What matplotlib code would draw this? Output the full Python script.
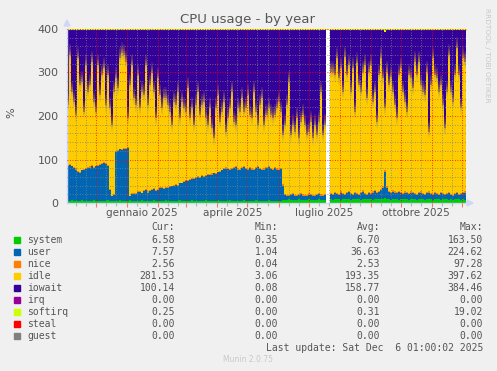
import numpy as np
import matplotlib
matplotlib.use('Agg')
import matplotlib.pyplot as plt
import matplotlib.dates as mdates
from matplotlib.patches import Rectangle, Polygon

nan = float('nan')

# ---- data: one sample every 2 days, starting 2024-11-02 ----
start_date = '2024-11-02'
step_days = 2

system = [5,5,6,5,4,5,5,6,5,5, 5,4,5,6,5,5,5,4,5,5, 6,5,5,5,4,5,6,5,5,5,
          5,6,5,4,5,5,5,6,5,5, 4,5,5,6,5,5,5,4,5,6, 5,5,5,4,5,5,6,5,5,5,
          4,5,6,5,5,5,5,4,5,6, 5,5,4,5,5,6,5,5,5,4, 5,6,5,5,5,4,5,5,6,5,
          5,5,4,5,6,5,5,5,4,5, 6,5,5,5,4,5,5,
          8,7,8,9,8,7,8,8,9,8,7,8,8,9,8,7,8,8,9,8,7,8,8,
          nan,
          9,8,9,10,9,8,9,9,10,9,8,9,9,10,9,8,9,9,
          9,10,9,8,9,10,9,9,10,12,10,9,8,9,10,9,8,9,10,9,9,8,9,10,9,
          8,9,10,9,8,9,10,9,8,9,10,9,8,9,10,9,8,9,8,9,10,9,8,9,8,6.58]

user = [80,83,79,75,73, 67,65,69,71,73,75, 77,80,75,79,81, 83,85,87,85,80,
        25,10,13, 113,115,117,117,119,120,121, 10,15,17,15,20, 20,17,23,25,20,
        23,25,27,23,25,29,30,27, 29,30,31,33,35,37,35,39,40,43,45,
        47,49,50,51,53,55,53,57,55,57,59, 60,61,63,61,65,67,70,73,75,73,
        71,73,75,77,73,71,75,77,73,71,75,73,71,75,77,73,71,73,75,77,73,71,75,73,71,73,
        32,11,8,6,10,13,8,7,9,12,10,7,8,10,10,9,7,10,11,9,9,10,14,
        nan,
        11,10,13,10,9,16,11,9,12,16,12,9,13,10,9,14,17,11,
        9,12,11,16,19,12,16,21,25,60,25,16,14,17,14,13,17,13,10,15,13,12,15,12,11,
        10,13,14,11,10,13,14,11,10,13,10,9,14,11,8,11,14,9,8,11,12,9,12,13,16,7.57]

nice = [2,2,1,2,3,2,2,1,2,2, 2,3,2,1,2,2,2,3,2,2, 1,2,2,2,3,2,1,2,2,2,
        2,1,2,3,2,2,2,1,2,2, 3,2,2,1,2,2,2,3,2,1, 2,2,2,3,2,2,1,2,2,2,
        3,2,1,2,2,2,2,3,2,1, 2,2,3,2,2,1,2,2,2,3, 2,1,2,2,2,3,2,2,1,2,
        2,2,3,2,1,2,2,2,3,2, 1,2,2,2,3,2,2,
        3,3,3,3,3,3,3,3,3,3,3,3,3,3,3,3,3,3,3,3,3,3,3,
        nan,
        3,3,3,3,3,3,3,3,3,3,3,3,3,3,3,3,3,3,
        3,3,3,3,3,3,3,3,3,3,3,3,3,3,3,3,3,3,3,3,3,3,3,3,3,
        3,3,3,3,3,3,3,3,3,3,3,3,3,3,3,3,3,3,3,3,3,3,3,3,3,2.56]

idle = [138,250,170,151,122, 259,199,203,132,237,174, 187,238,151,124,229,
        158,202,216,133,207, 186,162,236, 167,142,209,220,214,198,67,
        254,295,217,203,267, 191,232,218,285,198, 241,266,222,165,255,212,181,207,
        205,188,172,139,191,181,214,149,186,168,158,
        210,139,161,121,165,194,142,161,171,131,113,
        151,104,79,150,176,113,133,153,82,115,
        140,176,105,95,138,132,159,126,138,170,120,115,178,128,95,145,163,99,120,134,
        122,117,120,138,155,130,
        113,158,206,261,135,156,145,177,128,164,182,161,137,142,166,130,161,135,164,236,137,158,185,
        nan,
        279,281,269,310,266,283,233,315,269,289,233,289,185,298,250,231,273,294,
        220,277,294,206,225,162,266,300,249,143,264,243,265,227,198,170,266,285,233,206,
        185,271,260,239,302,273,300,244,233,227,277,137,248,312,269,264,235,246,202,151,
        233,315,235,214,271,331,273,195,308,298,281.53]

iowait = [175,60,144,167,198,67,129,121,190,83, 144,129,75,167,190,83,152,106,90,175,
          106,182,221,144,113,136,67,56,60,75, 205,129,83,159,175,106,182,144,152,83,
          175,129,102,144,205,113,152,182,159,159, 175,190,221,167,175,144,205,167,182,190,
          136,205,182,221,175,144,198,175,167,205, 221,182,228,251,182,152,213,190,167,236,
          205,182,144,213,221,182,190,159,190,182, 152,198,205,144,190,221,175,159,221,198,
          182,198,205,198,182,167,190,
          244,221,175,121,244,221,236,205,251,213,198,221,244,236,213,251,221,244,213,144,244,221,190,
          nan,
          98,98,106,67,113,90,144,64,106,83,144,90,190,79,129,144,98,83,
          159,98,83,167,144,213,106,67,113,174,98,129,110,144,175,205,106,90,144,167,
          190,106,113,136,75,106,75,129,144,152,98,236,129,67,106,113,144,129,175,228,
          144,60,144,167,106,44,106,182,67,75,100.14]

softirq = [0.3,0.3,0.4,0.3,0.2,0.3,0.3,0.4,0.3,0.3, 0.3,0.2,0.3,0.3,0.4,0.3,0.3,0.3,0.2,0.3,
           0.3,0.4,0.3,0.3,0.3,0.2,0.3,0.3,0.4,0.3, 0.3,0.3,0.2,0.3,0.3,0.4,0.3,0.3,0.3,0.2,
           0.3,0.3,0.4,0.3,0.3,0.3,0.2,0.3,0.3,0.4, 0.3,0.3,0.3,0.2,0.3,0.3,0.4,0.3,0.3,0.3,
           0.2,0.3,0.3,0.4,0.3,0.3,0.3,0.2,0.3,0.3, 0.4,0.3,0.3,0.3,0.2,0.3,0.3,0.4,0.3,0.3,
           0.3,0.2,0.3,0.3,0.4,0.3,0.3,0.3,0.2,0.3, 0.3,0.4,0.3,0.3,0.3,0.2,0.3,0.3,0.4,0.3,
           0.3,0.3,0.2,0.3,0.3,0.4,0.3,
           0.3,0.3,0.4,0.3,0.2,0.3,0.3,0.4,0.3,0.3,0.3,0.2,0.3,0.3,0.4,0.3,0.3,0.3,0.2,0.3,0.3,0.4,0.3,
           nan,
           0.3,0.3,0.2,0.3,0.3,0.4,0.3,0.3,0.3,0.2,0.3,0.3,0.4,0.3,0.3,0.3,0.2,0.3,
           0.3,0.3,0.4,0.3,0.2,0.3,0.3,0.4,0.3,8.0,0.3,0.3,0.2,0.3,0.3,0.4,0.3,0.3,0.3,0.2,
           0.3,0.3,0.4,0.3,0.3,0.3,0.2,0.3,0.3,0.4,0.3,0.3,0.3,0.2,0.3,0.3,0.4,0.3,0.3,0.3,
           0.2,0.3,0.3,0.4,0.3,0.3,0.3,0.2,0.3,0.3,0.25]

series_names = ['system', 'user', 'nice', 'idle', 'iowait', 'irq', 'softirq', 'steal', 'guest']
series_colors = ['#00CC00', '#0066B3', '#FF8000', '#FFCC00', '#330099', '#990099', '#CCFF00', '#FF0000', '#808080']
cur_vals = ['6.58', '7.57', '2.56', '281.53', '100.14', '0.00', '0.25', '0.00', '0.00']
min_vals = ['0.35', '1.04', '0.04', '3.06', '0.08', '0.00', '0.00', '0.00', '0.00']
avg_vals = ['6.70', '36.63', '2.53', '193.35', '158.77', '0.00', '0.31', '0.00', '0.00']
max_vals = ['163.50', '224.62', '97.28', '397.62', '384.46', '0.00', '19.02', '0.00', '0.00']

month_labels = ['gennaio 2025', 'aprile 2025', 'luglio 2025', 'ottobre 2025']
month_label_dates = ['2025-01-16', '2025-04-16', '2025-07-16', '2025-10-16']
y_ticks = [0, 100, 200, 300, 400]

title = 'CPU usage - by year'
last_update = 'Last update: Sat Dec  6 01:00:02 2025'

# ---- figure ----
W, H = 497, 371
fig = plt.figure(figsize=(W / 100, H / 100), dpi=100)
fig.patch.set_facecolor('#F0F0F0')

L, R, T, B = 67, 466, 29, 203
ax = fig.add_axes([L / W, 1 - B / H, (R - L) / W, (B - T) / H])
ax.set_facecolor('#FFFFFF')

n = len(system)
dates = np.datetime64(start_date) + np.arange(n) * np.timedelta64(step_days, 'D')
xnum = mdates.date2num(dates)

stack = np.array([system, user, nice, idle, iowait, softirq], dtype=float)
cols = ['#00CC00', '#0066B3', '#FF8000', '#FFCC00', '#330099', '#CCFF00']
bottom = np.zeros(n)
idle_top = None
for k, (vals, c) in enumerate(zip(stack, cols)):
    top = bottom + vals
    ax.fill_between(xnum, bottom, top, step='post', color=c, linewidth=0, zorder=1)
    if k == 3:
        idle_top = top.copy()
    bottom = top
# thin softirq line at the very top of the stack
ax.plot(xnum, bottom, drawstyle='steps-post', color='#CCFF00', lw=0.8, zorder=2, clip_on=False)

# soft transition between idle and iowait (averaging blur of the year graph)
band = 5.0
for j, a in enumerate([0.55, 0.42, 0.3, 0.2, 0.1]):
    ax.fill_between(xnum, idle_top + j * band, idle_top + (j + 1) * band, step='post',
                    color='#FFCC00', alpha=a, linewidth=0, zorder=1.2)
for j, a in enumerate([0.3, 0.18, 0.08]):
    ax.fill_between(xnum, idle_top - (j + 1) * band, idle_top - j * band, step='post',
                    color='#7060A0', alpha=a, linewidth=0, zorder=1.2)

ax.set_xlim(xnum[0], xnum[-1])
ax.set_ylim(0, 400)

# grid
ax.set_axisbelow(False)
ax.xaxis.set_major_locator(mdates.MonthLocator())
ax.xaxis.set_minor_locator(mdates.DayLocator(bymonthday=[11, 21]))
ax.xaxis.set_major_formatter(plt.NullFormatter())
ax.set_yticks(y_ticks)
ax.set_yticks(np.arange(0, 401, 20), minor=True)
ax.grid(which='major', color=(1, 0, 0, 0.33), linestyle=(0, (1, 2)), linewidth=0.6)
ax.grid(which='minor', color=(0.5, 0.5, 0.5, 0.4), linestyle=(0, (1, 2)), linewidth=0.6)

ax.tick_params(axis='x', which='major', length=3, color=(1, 0, 0, 0.5), width=0.8)
ax.tick_params(axis='x', which='minor', length=2, color=(0.5, 0.5, 0.5, 0.5), width=0.8)
ax.tick_params(axis='y', which='both', length=0, labelsize=8, labelcolor='#555555', pad=6)

for lab, d in zip(month_labels, month_label_dates):
    ax.text(mdates.date2num(np.datetime64(d)), -10 / (B - T), lab,
            transform=ax.get_xaxis_transform(), ha='center', va='center',
            fontsize=7.5, color='#555555')

for s in ['top', 'right']:
    ax.spines[s].set_visible(False)
for s in ['left', 'bottom']:
    ax.spines[s].set_color('#CFD6F8')
    ax.spines[s].set_linewidth(1)

# axis arrows
def px(x, y):
    return (x / W, 1 - y / H)

fig.patches.append(Polygon([px(64, 26), px(70, 26), px(67, 20)], closed=True,
                           transform=fig.transFigure, color='#CFD6F8', zorder=5))
fig.patches.append(Polygon([px(467, 200), px(467, 206), px(473, 203)], closed=True,
                           transform=fig.transFigure, color='#CFD6F8', zorder=5))

# texts
fig.text(248 / W, 1 - 19 / H, title, ha='center', va='center', fontsize=9.5, color='#555555')
fig.text(11 / W, 1 - 113 / H, '%', ha='center', va='center', rotation=90, fontsize=8, color='#555555')
fig.text(487 / W, 1 - 55 / H, 'RRDTOOL / TOBI OETIKER', ha='center', va='center',
         rotation=270, fontsize=5.3, color='#C8C8C8')

mono = 'DejaVu Sans Mono'
tc = '#555555'
hy = 227
for xr, h in zip([175, 278, 380, 483], ['Cur:', 'Min:', 'Avg:', 'Max:']):
    fig.text(xr / W, 1 - hy / H, h, ha='right', va='center', fontsize=7, family=mono, color=tc)

for i, name in enumerate(series_names):
    y = 240 + 12 * i
    fig.patches.append(Rectangle(px(14, y + 2.5), 6 / W, 5.5 / H, transform=fig.transFigure,
                                 color=series_colors[i], zorder=5))
    fig.text(27 / W, 1 - y / H, name, ha='left', va='center', fontsize=7, family=mono, color=tc)
    for xr, v in zip([175, 278, 380, 483], [cur_vals[i], min_vals[i], avg_vals[i], max_vals[i]]):
        fig.text(xr / W, 1 - y / H, v, ha='right', va='center', fontsize=7, family=mono, color=tc)

fig.text(483 / W, 1 - 348 / H, last_update, ha='right', va='center', fontsize=7, family=mono, color=tc)
fig.text(248 / W, 1 - 360 / H, 'Munin 2.0.75', ha='center', va='center', fontsize=5.5, color='#C8C8C8')

fig.savefig('out.png', dpi=100, facecolor=fig.get_facecolor())
